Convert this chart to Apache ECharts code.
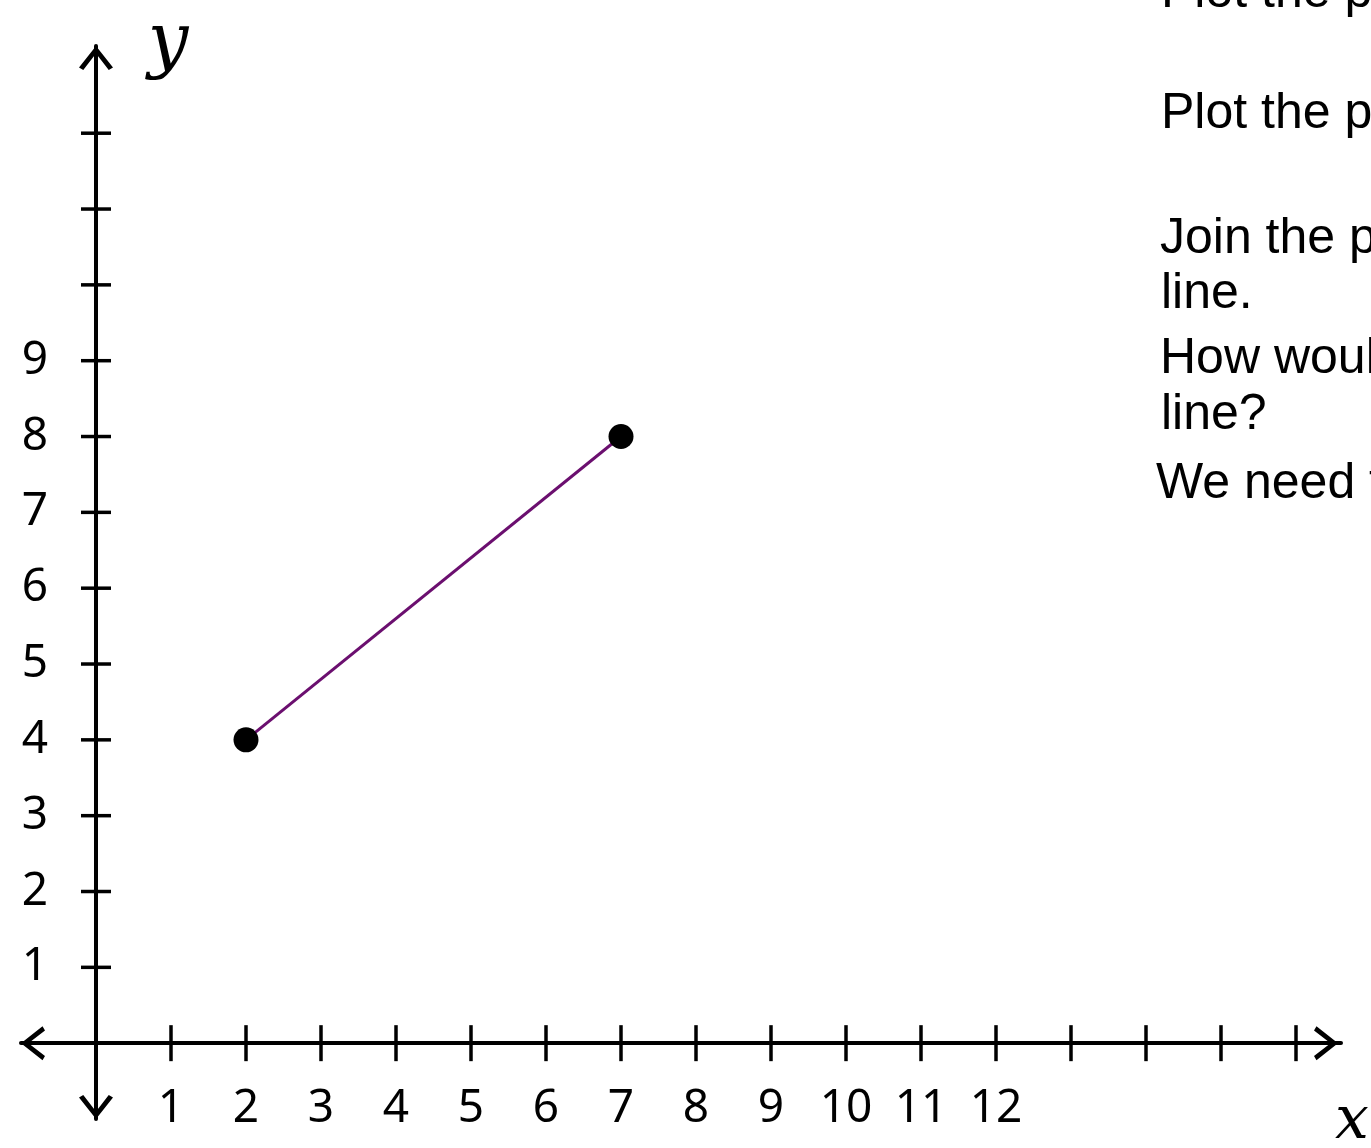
<!DOCTYPE html>
<html>
<head>
<meta charset="utf-8">
<script src="https://cdn.jsdelivr.net/npm/echarts@6/dist/echarts.min.js"></script>
<style>
html,body{margin:0;padding:0;background:#fff;}
#chart{width:1371px;height:1148px;}
</style>
</head>
<body>
<div id="chart"></div>
<script>
// ---- data ----
const xTickValues = [1,2,3,4,5,6,7,8,9,10,11,12,13,14,15,16];
const yTickValues = [1,2,3,4,5,6,7,8,9,10,11,12];
const xLabelValues = [1,2,3,4,5,6,7,8,9,10,11,12];
const yLabelValues = [1,2,3,4,5,6,7,8,9];
const lineX = [2, 7];
const lineY = [4, 8];
const noteLines = ['Plot the p', 'Plot the p', 'Join the p', 'line.', 'How woul', 'line?', 'We need t'];

const X_MIN = -1, X_MAX = 16.6, Y_MIN = -1, Y_MAX = 13.15;
const chevron = 'path://M0,13 L10,0 L20,13 L17.5,14.5 L10,4.5 L2.5,14.5 Z';

const chart = echarts.init(document.getElementById('chart'));
const textFont = '50px "Liberation Sans", Arial, sans-serif';
const noteMid = [-7, 114.5, 239.5, 294.5, 359.5, 415.5, 484.5];
const noteX = [1161, 1161, 1160, 1161, 1160, 1161, 1156];

const solid = {color: '#000', opacity: 1};
const arrowBase = {
  type: 'scatter', silent: true, z: 6,
  symbol: chevron, symbolKeepAspect: false, symbolSize: [34, 24],
  itemStyle: solid
};

chart.setOption({
  animation: false,
  backgroundColor: '#ffffff',
  grid: {left: 21, right: 30, top: 46, bottom: 29, containLabel: false, outerBoundsMode: 'none'},
  xAxis: {
    type: 'value', min: X_MIN, max: X_MAX, interval: 1,
    axisLine: {onZero: true, lineStyle: {color: '#000', width: 4},
      symbol: ['none', 'none']},
    axisTick: {show: false},
    splitLine: {show: false},
    axisLabel: {
      margin: -33, color: '#000', fontSize: 46, fontFamily: 'Noto Sans',
      formatter: v => xLabelValues.indexOf(v) >= 0 ? String(v) : ''
    }
  },
  yAxis: {
    type: 'value', min: Y_MIN, max: Y_MAX, interval: 1,
    axisLine: {onZero: true, lineStyle: {color: '#000', width: 4},
      symbol: ['none', 'none']},
    axisTick: {show: false},
    splitLine: {show: false},
    axisLabel: {
      margin: -27, color: '#000', fontSize: 46, fontFamily: 'Noto Sans',
      formatter: v => yLabelValues.indexOf(v) >= 0 ? String(v) : ''
    }
  },
  series: [
    {
      type: 'scatter', silent: true, z: 3,
      symbol: 'rect', symbolSize: [3.5, 36],
      itemStyle: solid,
      data: xTickValues.map(v => [v, 0])
    },
    {
      type: 'scatter', silent: true, z: 3,
      symbol: 'rect', symbolSize: [30, 3.5],
      itemStyle: solid,
      data: yTickValues.map(v => [0, v])
    },
    {
      type: 'line', silent: true, z: 4,
      showSymbol: false, symbol: 'none',
      lineStyle: {color: '#6b0f6f', width: 3},
      data: lineX.map((x, i) => [x, lineY[i]])
    },
    {
      type: 'scatter', silent: true, z: 5,
      symbol: 'circle', symbolSize: 25,
      itemStyle: solid,
      data: lineX.map((x, i) => [x, lineY[i]])
    },
    Object.assign({}, arrowBase, {symbolOffset: [0, 12], data: [{value: [0, Y_MAX], symbolRotate: 0}]}),
    Object.assign({}, arrowBase, {symbolOffset: [0, -12], data: [{value: [0, Y_MIN], symbolRotate: 180}]}),
    Object.assign({}, arrowBase, {symbolOffset: [-12, 0], data: [{value: [X_MAX - 0.04, 0], symbolRotate: -90}]}),
    Object.assign({}, arrowBase, {symbolOffset: [12, 0], data: [{value: [X_MIN, 0], symbolRotate: 90}]})
  ],
  graphic: noteLines.map((t, i) => ({
    type: 'text', x: noteX[i], y: noteMid[i], z: 10,
    style: {text: t, font: textFont, fill: '#000', textAlign: 'left', textVerticalAlign: 'middle', align: 'left', verticalAlign: 'middle'}
  })).concat([
    {type: 'text', x: 168, y: 45, z: 10,
     style: {text: 'y', font: 'italic 72px "DejaVu Serif", serif', fill: '#000', textAlign: 'center', textVerticalAlign: 'middle', align: 'center', verticalAlign: 'middle'}},
    {type: 'text', x: 1352, y: 1122, z: 10,
     style: {text: 'x', font: 'italic 60px "DejaVu Serif", serif', fill: '#000', textAlign: 'center', textVerticalAlign: 'middle', align: 'center', verticalAlign: 'middle'}}
  ])
});
</script>
</body>
</html>
